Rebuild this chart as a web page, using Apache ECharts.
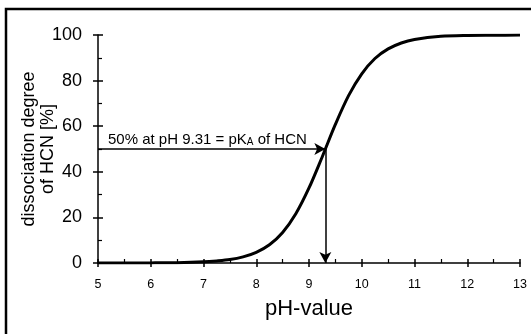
<!DOCTYPE html>
<html>
<head>
<meta charset="utf-8">
<script src="https://cdn.jsdelivr.net/npm/echarts@6/dist/echarts.min.js"></script>
<style>
  html, body { margin: 0; padding: 0; background: #fff; }
  #main { width: 531px; height: 334px; }
</style>
</head>
<body>
<div id="main"></div>
<script>
// pH values and dissociation degree
const phValues = [5, 5.5, 6, 6.5, 7, 7.25, 7.5, 7.75, 8, 8.25, 8.5, 8.75, 9, 9.25, 9.31, 9.5, 9.75, 10, 10.25, 10.5, 10.75, 11, 11.5, 12, 12.5, 13];
const degree = [0, 0.02, 0.05, 0.15, 0.5, 0.9, 1.5, 2.7, 4.7, 8.0, 13.4, 21.6, 32.9, 46.5, 50, 60.8, 73.4, 83.0, 89.7, 93.9, 96.5, 98.0, 99.4, 99.8, 99.9, 100];
const pKa = 9.31;
const xTicks = {min: 5, max: 13, step: 1};
const yTicks = {min: 0, max: 100, step: 20};

let myChart = echarts.init(document.getElementById('main'));

const font = 'Liberation Sans, Arial, sans-serif';
const axisLine = {show: true, lineStyle: {color: '#000', width: 1.5}};

let option = {
    animation: false,
    backgroundColor: '#fff',
    grid: {left: 98, right: 11, top: 35, bottom: 71, containLabel: false, outerBoundsMode: 'none'},
    graphic: [{
        type: 'rect',
        shape: {x: 6, y: 9, width: 700, height: 500},
        style: {fill: 'none', stroke: '#000', lineWidth: 2.5},
        silent: true
    }],
    xAxis: [
        {
            type: 'value', min: xTicks.min, max: xTicks.max, interval: xTicks.step,
            position: 'bottom',
            axisLine: axisLine,
            axisTick: {show: true, inside: false, length: 4, lineStyle: {color: '#000', width: 1.5}},
            splitLine: {show: false},
            axisLabel: {color: '#000', fontSize: 12.5, fontFamily: font, margin: 15},
            name: 'pH-value', nameLocation: 'middle', nameGap: 35, nameMoveOverlap: false,
            nameTextStyle: {color: '#000', fontSize: 22, fontFamily: font}
        },
        {
            type: 'value', min: xTicks.min, max: xTicks.max, interval: xTicks.step,
            position: 'bottom', offset: 0,
            axisLine: {show: false},
            axisTick: {show: true, inside: true, length: 4, lineStyle: {color: '#000', width: 1.5}},
            minorTick: {show: true, splitNumber: 2, length: 4, lineStyle: {color: '#000', width: 1.2}},
            splitLine: {show: false},
            axisLabel: {show: false}
        }
    ],
    yAxis: [
        {
            type: 'value', min: yTicks.min, max: yTicks.max, interval: yTicks.step,
            position: 'left',
            axisLine: axisLine,
            axisTick: {show: true, inside: false, length: 5, lineStyle: {color: '#000', width: 1.5}},
            splitLine: {show: false},
            axisLabel: {color: '#000', fontSize: 18, fontFamily: font, margin: 16},
            name: 'dissociation degree\nof HCN [%]', nameLocation: 'middle', nameGap: 40, nameRotate: 90,
            nameMoveOverlap: false,
            nameTextStyle: {color: '#000', fontSize: 18, fontFamily: font, lineHeight: 19}
        },
        {
            type: 'value', min: yTicks.min, max: yTicks.max, interval: yTicks.step,
            position: 'left', offset: 0,
            axisLine: {show: false},
            axisTick: {show: true, inside: true, length: 5, lineStyle: {color: '#000', width: 1.5}},
            minorTick: {show: true, splitNumber: 2, length: 4, lineStyle: {color: '#000', width: 1.2}},
            splitLine: {show: false},
            axisLabel: {show: false}
        }
    ],
    series: [{
        type: 'line',
        xAxisIndex: 0, yAxisIndex: 0,
        data: phValues.map((p, i) => [p, degree[i]]),
        showSymbol: false,
        smooth: 0.3,
        lineStyle: {color: '#000', width: 3},
        markLine: {
            silent: true,
            symbol: ['none', 'arrow'],
            symbolSize: [9, 11],
            lineStyle: {color: '#000', width: 1.5, type: 'solid'},
            data: [
                [
                    {coord: [xTicks.min, 50],
                     label: {
                         show: true, position: 'insideStartTop', distance: [10, 2],
                         formatter: '50% at pH 9.31 = pK{sub|A} of HCN',
                         color: '#000', fontSize: 15, fontFamily: font,
                         rich: {sub: {fontSize: 10, color: '#000', fontFamily: font, verticalAlign: 'bottom', padding: [3, 0, 0, 0]}}
                     }},
                    {coord: [pKa, 50]}
                ],
                [
                    {coord: [pKa, 50], label: {show: false}},
                    {coord: [pKa, 0]}
                ]
            ]
        }
    }]
};
myChart.setOption(option);
</script>
</body>
</html>
